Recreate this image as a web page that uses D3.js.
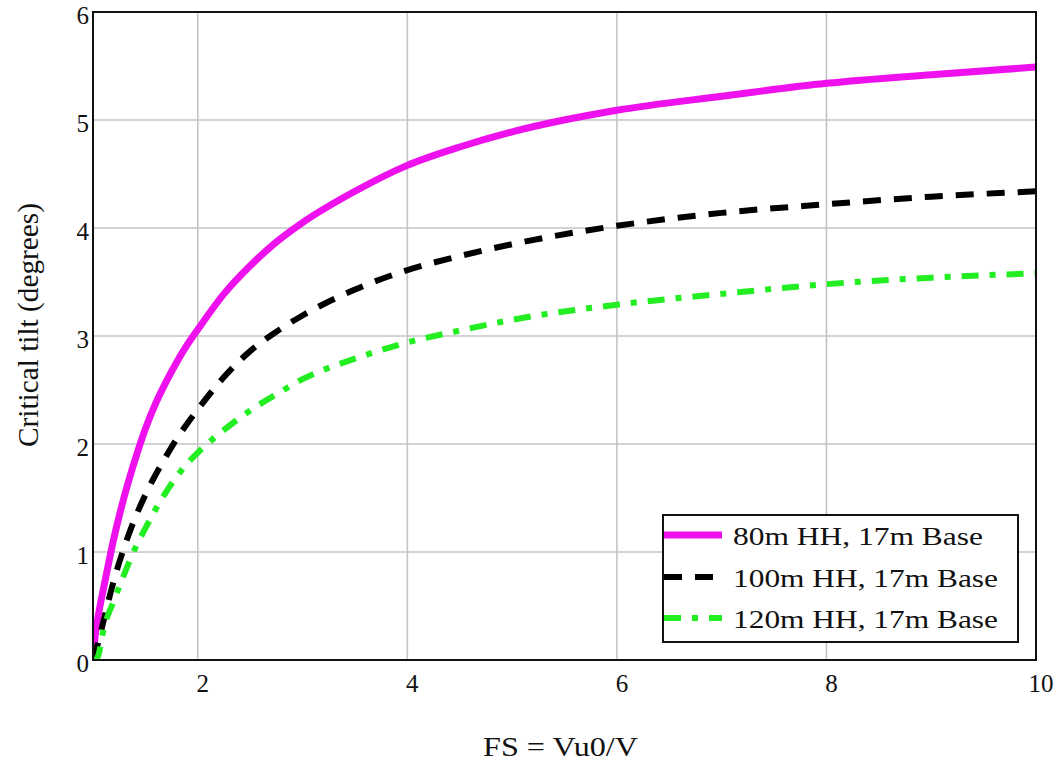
<!DOCTYPE html>
<html>
<head>
<meta charset="utf-8">
<script src="https://cdn.jsdelivr.net/npm/d3@7/dist/d3.min.js"></script>
<style>
  html, body { margin: 0; padding: 0; background: #fff; }
  svg { display: block; }
  text { font-family: "Liberation Serif", "Times New Roman", serif; fill: #111; }
</style>
</head>
<body>
<svg id="chart" width="1057" height="763"></svg>
<script>
// Factor of safety FS = Vu0/V
const fs = [1, 1.02, 1.05, 1.1, 1.2, 1.3, 1.4, 1.5, 1.6, 1.7, 1.8, 1.9, 2,
            2.25, 2.5, 2.75, 3, 3.5, 4, 4.5, 5, 6, 7, 8, 9, 10];

// Critical tilt in degrees for each hub height
const tilt80 = [0, 0.22, 0.41, 0.66, 1.13, 1.52, 1.85, 2.14, 2.38, 2.58, 2.76, 2.92, 3.06,
                3.39, 3.65, 3.87, 4.05, 4.34, 4.58, 4.75, 4.89, 5.09, 5.22, 5.34, 5.42, 5.49];
const tilt100 = [0, 0.07, 0.16, 0.36, 0.74, 1.05, 1.31, 1.53, 1.72, 1.89, 2.05, 2.19, 2.32,
                 2.62, 2.86, 3.04, 3.19, 3.43, 3.61, 3.74, 3.85, 4.02, 4.14, 4.22, 4.29, 4.34];
const tilt120 = [0, 0, 0.04, 0.28, 0.55, 0.8, 1.03, 1.22, 1.4, 1.56, 1.7, 1.82, 1.92,
                 2.13, 2.31, 2.46, 2.6, 2.79, 2.94, 3.05, 3.15, 3.29, 3.39, 3.48, 3.54, 3.58];

const seriesNames = ["80m HH, 17m Base", "100m HH, 17m Base", "120m HH, 17m Base"];
const xTicks = [2, 4, 6, 8, 10];
const yTicks = [0, 1, 2, 3, 4, 5, 6];
const xTitle = "FS = Vu0/V";
const yTitle = "Critical tilt (degrees)";

const styles = [
  { color: "#ee11ee", width: 7, dash: null },
  { color: "#000000", width: 6, dash: "18,13" },
  { color: "#22ee22", width: 6, dash: "17,11,6,11" }
];

const svg = d3.select("#chart");
const plotL = 93, plotR = 1036, plotT = 12, plotB = 660;

const x = d3.scaleLinear().domain([1, 10]).range([plotL, plotR]);
const y = d3.scaleLinear().domain([0, 6]).range([plotB, plotT]);

// Grid
const grid = svg.append("g").attr("stroke", "#c4c4c4").attr("stroke-width", 1.6);
grid.selectAll("line.v").data([2, 4, 6, 8]).join("line").attr("class", "v")
  .attr("x1", d => x(d)).attr("x2", d => x(d)).attr("y1", plotT).attr("y2", plotB);
grid.selectAll("line.h").data([1, 2, 3, 4, 5]).join("line").attr("class", "h")
  .attr("x1", plotL).attr("x2", plotR).attr("y1", d => y(d)).attr("y2", d => y(d));

// Curves
svg.append("clipPath").attr("id", "plotclip")
  .append("rect").attr("x", plotL).attr("y", plotT)
  .attr("width", plotR - plotL).attr("height", plotB - plotT);

const line = d3.line().x(d => x(d[0])).y(d => y(d[1])).curve(d3.curveMonotoneX);
const allSeries = [tilt80, tilt100, tilt120];
const curves = svg.append("g").attr("clip-path", "url(#plotclip)");
allSeries.forEach((vals, i) => {
  const pts = fs.map((f, k) => [f, vals[k]]);
  curves.append("path")
    .attr("d", line(pts))
    .attr("fill", "none")
    .attr("stroke", styles[i].color)
    .attr("stroke-width", styles[i].width)
    .attr("stroke-dasharray", styles[i].dash)
    .attr("stroke-linejoin", "round");
});

// Frame
svg.append("rect").attr("x", plotL).attr("y", plotT)
  .attr("width", plotR - plotL).attr("height", plotB - plotT)
  .attr("fill", "none").attr("stroke", "#111").attr("stroke-width", 2);

// Tick labels
svg.append("g").selectAll("text").data(yTicks).join("text")
  .attr("x", plotL - 4).attr("y", d => y(d) + 11.5)
  .attr("text-anchor", "end")
  .attr("font-size", 25)
  .text(d => d);

svg.append("g").selectAll("text").data(xTicks).join("text")
  .attr("x", d => x(d) + 5).attr("y", 691.5)
  .attr("text-anchor", "middle")
  .attr("font-size", 25)
  .text(d => d);

// Axis titles
svg.append("text").attr("x", 483).attr("y", 756)
  .attr("font-size", 27)
  .attr("textLength", 155).attr("lengthAdjust", "spacingAndGlyphs")
  .text(xTitle);

svg.append("text")
  .attr("transform", "translate(38,447) rotate(-90)")
  .attr("font-size", 29)
  .attr("textLength", 244).attr("lengthAdjust", "spacingAndGlyphs")
  .text(yTitle);

// Legend
const lg = svg.append("g");
lg.append("rect").attr("x", 663).attr("y", 515).attr("width", 355).attr("height", 127)
  .attr("fill", "#fff").attr("stroke", "#111").attr("stroke-width", 2);
const rowY = [535, 577, 618];
const labelW = [250, 265, 265];
seriesNames.forEach((name, i) => {
  lg.append("line")
    .attr("x1", 664).attr("x2", 722).attr("y1", rowY[i]).attr("y2", rowY[i])
    .attr("stroke", styles[i].color)
    .attr("stroke-width", styles[i].width)
    .attr("stroke-dasharray", styles[i].dash);
  lg.append("text").attr("x", 733).attr("y", rowY[i] + 10)
    .attr("font-size", 25.5)
    .attr("textLength", labelW[i]).attr("lengthAdjust", "spacingAndGlyphs")
    .text(name);
});
</script>
</body>
</html>
